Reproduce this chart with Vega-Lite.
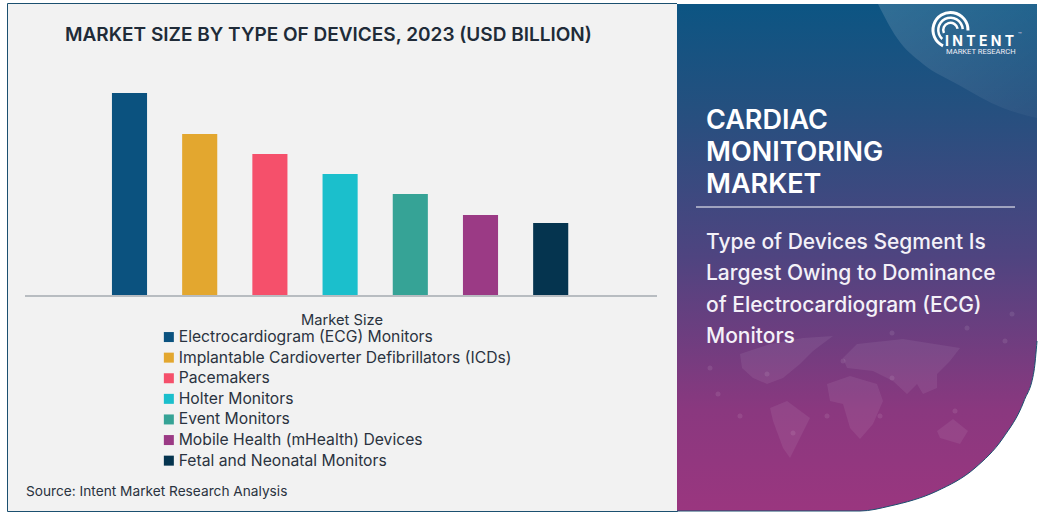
{
"$schema":"https://vega.github.io/schema/vega-lite/v6.json",
"background":"white",
"padding":{"left":6,"top":2,"right":0,"bottom":0},
"spacing":0,
"bounds":"flush",
"config":{"font":"Inter"},
"datasets":{
"bars":[
{"device":"Electrocardiogram (ECG) Monitors","size":2.02},
{"device":"Implantable Cardioverter Defibrillators (ICDs)","size":1.61},
{"device":"Pacemakers","size":1.41},
{"device":"Holter Monitors","size":1.21},
{"device":"Event Monitors","size":1.01},
{"device":"Mobile Health (mHealth) Devices","size":0.80},
{"device":"Fetal and Neonatal Monitors","size":0.72}],
"panel":[{"u":0,"top":0,"bottom":507},{"u":183,"top":0,"bottom":507},{"u":213,"top":0,"bottom":502},{"u":260,"top":0,"bottom":487},{"u":298,"top":0,"bottom":464},{"u":326,"top":0,"bottom":434},{"u":347,"top":0,"bottom":397},{"u":357,"top":0,"bottom":367},{"u":360,"top":0,"bottom":337}],
"swoosh":[{"u":201,"top":0,"bottom":0},{"u":220,"top":0,"bottom":34},{"u":246,"top":0,"bottom":60},{"u":280,"top":0,"bottom":80},{"u":326,"top":0,"bottom":104},{"u":360,"top":0,"bottom":114}],
"nodes":[{"u":41,"v":390},{"u":63,"v":412},{"u":116,"v":429},{"u":150,"v":412},{"u":203,"v":412},{"u":215,"v":374},{"u":166,"v":357},{"u":90,"v":370},{"u":278,"v":407},{"u":328,"v":337},{"u":290,"v":324},{"u":335,"v":310},{"u":215,"v":329},{"u":33,"v":364}],
"land":[
{"r":"na","i":0,"u":63,"v":350},{"r":"na","i":1,"u":93,"v":340},{"r":"na","i":2,"u":126,"v":334},{"r":"na","i":3,"u":156,"v":332},{"r":"na","i":4,"u":136,"v":347},{"r":"na","i":5,"u":123,"v":360},{"r":"na","i":6,"u":106,"v":374},{"r":"na","i":7,"u":90,"v":380},{"r":"na","i":8,"u":76,"v":374},{"r":"na","i":9,"u":65,"v":364},
{"r":"sa","i":0,"u":93,"v":404},{"r":"sa","i":1,"u":110,"v":397},{"r":"sa","i":2,"u":133,"v":414},{"r":"sa","i":3,"u":123,"v":434},{"r":"sa","i":4,"u":113,"v":454},{"r":"sa","i":5,"u":106,"v":444},{"r":"sa","i":6,"u":96,"v":417},
{"r":"ea","i":0,"u":166,"v":354},{"r":"ea","i":1,"u":180,"v":340},{"r":"ea","i":2,"u":226,"v":335},{"r":"ea","i":3,"u":283,"v":344},{"r":"ea","i":4,"u":273,"v":357},{"r":"ea","i":5,"u":260,"v":370},{"r":"ea","i":6,"u":260,"v":384},{"r":"ea","i":7,"u":246,"v":390},{"r":"ea","i":8,"u":240,"v":380},{"r":"ea","i":9,"u":230,"v":390},{"r":"ea","i":10,"u":216,"v":377},{"r":"ea","i":11,"u":196,"v":367},{"r":"ea","i":12,"u":170,"v":364},
{"r":"af","i":0,"u":150,"v":380},{"r":"af","i":1,"u":173,"v":372},{"r":"af","i":2,"u":200,"v":380},{"r":"af","i":3,"u":206,"v":397},{"r":"af","i":4,"u":196,"v":420},{"r":"af","i":5,"u":183,"v":435},{"r":"af","i":6,"u":173,"v":424},{"r":"af","i":7,"u":166,"v":400},{"r":"af","i":8,"u":153,"v":397},
{"r":"au","i":0,"u":260,"v":427},{"r":"au","i":1,"u":276,"v":415},{"r":"au","i":2,"u":291,"v":427},{"r":"au","i":3,"u":283,"v":440},{"r":"au","i":4,"u":263,"v":434}]
},
"hconcat":[
{
"width":670,"height":508,
"view":{"fill":"#f2f2f2","stroke":"#1b5070","strokeWidth":1},
"layer":[
{"data":{"name":"bars"},"mark":{"type":"bar"},
"encoding":{
"x":{"field":"device","type":"nominal","sort":null,"axis":null,"scale":{"range":[87.4,578.8],"paddingInner":0.5,"paddingOuter":0.25}},
"y":{"field":"size","type":"quantitative","axis":null,"scale":{"domain":[0,2.92],"range":[292,0]}},
"color":{"field":"device","type":"nominal","sort":null,
"scale":{"domain":["Electrocardiogram (ECG) Monitors","Implantable Cardioverter Defibrillators (ICDs)","Pacemakers","Holter Monitors","Event Monitors","Mobile Health (mHealth) Devices","Fetal and Neonatal Monitors"],"range":["#0b527f","#e3a72f","#f5506b","#1bbfcc","#36a396","#9b3a85","#05344f"]},
"legend":{"orient":"none","legendX":154,"legendY":310,"title":"Market Size","titleFont":"Inter","titleFontSize":14.7,"titleFontWeight":400,"titleColor":"#2a3340","titleAnchor":"middle","titlePadding":1.5,"labelFont":"Inter","labelFontSize":15.7,"labelColor":"#2a3340","labelLimit":400,"labelOffset":2,"symbolType":"square","symbolSize":100,"symbolStrokeWidth":0,"symbolOpacity":1,"rowPadding":3.6,"encode":{"title":{"update":{"dx":{"value":6}}}}}}
}},
{"data":{"values":[{"a":1}]},"mark":{"type":"rule","color":"#7f8790","strokeWidth":1},"encoding":{"x":{"value":18},"x2":{"value":650},"y":{"value":293}}},
{"data":{"values":[{"t":"MARKET SIZE BY TYPE OF DEVICES, 2023 (USD BILLION)"}]},"mark":{"type":"text","align":"left","baseline":"alphabetic","font":"Inter","fontSize":19,"fontWeight":600,"color":"#202b38"},"encoding":{"text":{"field":"t"},"x":{"value":58},"y":{"value":38}}},
{"data":{"values":[{"t":"Source: Intent Market Research Analysis"}]},"mark":{"type":"text","align":"left","baseline":"alphabetic","font":"Inter","fontSize":13.7,"color":"#2a3340"},"encoding":{"text":{"field":"t"},"x":{"value":19},"y":{"value":493}}}
]
},
{
"width":366,"height":508,
"view":{"stroke":null,"fill":"white"},
"layer":[
{"data":{"name":"panel"},"mark":{"type":"area","interpolate":"monotone","color":{"gradient":"linear","x1":0,"y1":0,"x2":0,"y2":1,"stops":[{"offset":0,"color":"#0c5583"},{"offset":0.2,"color":"#24507f"},{"offset":0.5,"color":"#4f4480"},{"offset":0.8,"color":"#8a387f"},{"offset":1,"color":"#9a367f"}]}},
"encoding":{"x":{"field":"u","type":"quantitative","axis":null,"scale":{"domain":[0,366],"range":[0,366],"nice":false}},"y":{"field":"top","type":"quantitative","axis":null,"scale":{"domain":[0,507],"range":[1,508],"nice":false}},"y2":{"field":"bottom"}}},
{"data":{"name":"panel"},"mark":{"type":"line","interpolate":"monotone","color":"#1b5070","strokeWidth":1},
"encoding":{"x":{"field":"u","type":"quantitative","axis":null,"scale":{"domain":[0,366],"range":[0,366],"nice":false}},"y":{"field":"bottom","type":"quantitative","axis":null,"scale":{"domain":[0,507],"range":[1,508],"nice":false}}}},
{"data":{"name":"swoosh"},"mark":{"type":"area","interpolate":"monotone","color":{"gradient":"linear","x1":0,"y1":0,"x2":1,"y2":1,"stops":[{"offset":0,"color":"rgba(255,255,255,0.15)"},{"offset":1,"color":"rgba(255,255,255,0.03)"}]}},
"encoding":{"x":{"field":"u","type":"quantitative","axis":null,"scale":{"domain":[0,366],"range":[0,366],"nice":false}},"y":{"field":"top","type":"quantitative","axis":null,"scale":{"domain":[0,507],"range":[1,508],"nice":false}},"y2":{"field":"bottom"}}},
{"data":{"name":"land"},"mark":{"type":"line","fill":"white","fillOpacity":0.07,"strokeWidth":0,"stroke":"white"},
"encoding":{"x":{"field":"u","type":"quantitative","axis":null,"scale":{"domain":[0,366],"range":[0,366],"nice":false}},"y":{"field":"v","type":"quantitative","axis":null,"scale":{"domain":[0,507],"range":[1,508],"nice":false}},"detail":{"field":"r"},"order":{"field":"i"}}},
{"data":{"name":"nodes"},"mark":{"type":"circle","color":"white","opacity":0.09,"size":25},
"encoding":{"x":{"field":"u","type":"quantitative","axis":null,"scale":{"domain":[0,366],"range":[0,366],"nice":false}},"y":{"field":"v","type":"quantitative","axis":null,"scale":{"domain":[0,507],"range":[1,508],"nice":false}}}},
{"data":{"values":[{"t":["CARDIAC","MONITORING","MARKET"]}]},"mark":{"type":"text","align":"left","baseline":"alphabetic","font":"Inter","fontSize":27,"fontWeight":600,"color":"white","lineHeight":32},
"encoding":{"text":{"field":"t"},"x":{"value":29},"y":{"value":126}}},
{"data":{"values":[{"a":1}]},"mark":{"type":"rule","color":"white","strokeWidth":1},"encoding":{"x":{"value":19},"x2":{"value":338},"y":{"value":204}}},
{"data":{"values":[{"t":["Type of Devices Segment Is","Largest Owing to Dominance","of Electrocardiogram (ECG)","Monitors"]}]},"mark":{"type":"text","align":"left","baseline":"alphabetic","font":"Inter","fontSize":21,"fontWeight":500,"color":"#f4f1f8","lineHeight":31.3},
"encoding":{"text":{"field":"t"},"x":{"value":29},"y":{"value":246}}},
{"data":{"values":[{"a":1}]},"mark":{"type":"arc","color":"white","innerRadius":16,"outerRadius":19,"theta":-2.7,"theta2":1.6},"encoding":{"x":{"value":273.5},"y":{"value":27}}},
{"data":{"values":[{"a":1}]},"mark":{"type":"arc","color":"white","innerRadius":11,"outerRadius":13.5,"theta":-2.4,"theta2":1.5},"encoding":{"x":{"value":273.5},"y":{"value":27}}},
{"data":{"values":[{"a":1}]},"mark":{"type":"arc","color":"white","innerRadius":6,"outerRadius":8.5,"theta":-2,"theta2":1.4},"encoding":{"x":{"value":273.5},"y":{"value":27}}},
{"data":{"values":[{"t":"I N T E N T"}]},"mark":{"type":"text","align":"left","baseline":"alphabetic","font":"Inter","fontSize":14,"fontWeight":700,"color":"white"},"encoding":{"text":{"field":"t"},"x":{"value":268},"y":{"value":43}}},
{"data":{"values":[{"t":"™"}]},"mark":{"type":"text","align":"left","baseline":"alphabetic","font":"Inter","fontSize":6,"color":"#d8d4e6"},"encoding":{"text":{"field":"t"},"x":{"value":341},"y":{"value":34}}},
{"data":{"values":[{"t":"MARKET RESEARCH"}]},"mark":{"type":"text","align":"left","baseline":"alphabetic","font":"Roboto","fontSize":7.6,"color":"#f0eef6"},"encoding":{"text":{"field":"t"},"x":{"value":269},"y":{"value":51}}}
]
}
]
}
